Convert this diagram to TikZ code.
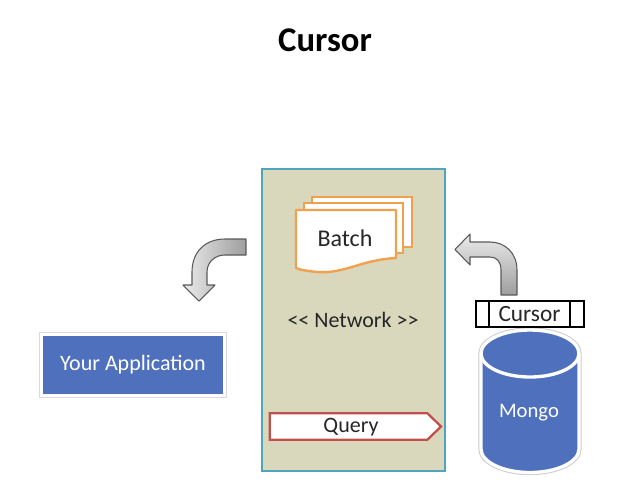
\documentclass[tikz,border=0pt]{standalone}
\usepackage{fontspec}
\setmainfont{Carlito}
\usetikzlibrary{shapes.symbols}
\definecolor{netfill}{HTML}{D9D8BD}
\definecolor{netline}{HTML}{4FA6B8}
\definecolor{blockblue}{HTML}{4F71BD}
\definecolor{batchline}{HTML}{F0A150}
\definecolor{queryline}{HTML}{C0504D}
\tikzset{
  sheet/.style={draw=batchline,fill=white,line width=1.8pt,shape=rectangle,inner sep=0pt},
  bluebox/.style={fill=blockblue,draw=white,line width=2.2pt,text=white},
  bendarrow/.style={draw=black!65,line width=0.8pt,line join=round},
  label/.style={font=\fontsize{16.5}{20}\selectfont,text=black!85}
}
\begin{document}
\begin{tikzpicture}[x=0.75pt,y=-0.75pt]
            \useasboundingbox (0,0) rectangle (622,494);
            \node[font=\fontsize{26}{30}\selectfont\bfseries](title)at(325,40){Cursor};

            % network box
            \node[draw=netline,fill=netfill,line width=1.7pt,shape=rectangle,minimum width=137pt,minimum height=226pt](network)at(353.5,320){};
            \node[label](networktext)at(353,320){<{}< Network >{}>};

            % batch pages
            \node[sheet,minimum width=75pt,minimum height=37.5pt](page3)at(362,222){};
            \node[sheet,minimum width=74pt,minimum height=37.5pt](page2)at(353.5,228){};
            \draw[batchline,fill=white,line width=1.8pt,line join=round](296,210)--(396,210)--(396,258)
                .. controls (360,260) and (345,274) .. (317,272) .. controls (308,271) and (300,270) .. (296,268)--cycle;
            \node[label,font=\fontsize{18}{20}\selectfont](batch)at(345,238){Batch};

            \node[draw=queryline,fill=white,line width=1.7pt,shape=signal,signal to=east,signal pointer angle=88,
                  minimum width=128.5pt,minimum height=20pt,inner sep=0pt](query)at(348.5,426.5){};
            \node[label](querytext)at(351,427){Query};

            % application
            \node[draw=black!15,fill=white,line width=0.6pt,minimum width=140.5pt,minimum height=49pt,inner sep=0pt](appshadow)at(133,365){};
            \node[bluebox,minimum width=137pt,minimum height=45.5pt,inner sep=0pt,label,text=white](app)at(133,365){Your Application};

            % mongo
            \draw[black!20,line width=4pt](481,353.5)arc[x radius=49,y radius=23.5,start angle=180,end angle=360]
                --(579,449)arc[x radius=49,y radius=23.5,start angle=0,end angle=180]--cycle;
            \draw[white,fill=blockblue,line width=2.5pt](481,353.5)arc[x radius=49,y radius=23.5,start angle=180,end angle=360]
                --(579,449)arc[x radius=49,y radius=23.5,start angle=0,end angle=180]--cycle;
            \draw[white,line width=2.5pt](481,353.5)arc[x radius=49,y radius=23.5,start angle=180,end angle=0];
            \node[label,text=white,font=\fontsize{15.5}{18}\selectfont](mongo)at(529,413){Mongo};

            % cursor bar
            \node[draw=black,fill=white,line width=1.5pt,shape=rectangle,minimum width=81pt,minimum height=20pt,inner sep=0pt](cursorbar)at(529.5,314){};
            \node[draw=black,line width=1.5pt,shape=rectangle,minimum width=60.5pt,minimum height=20pt,inner sep=0pt,label,font=\fontsize{17.5}{20}\selectfont](cursor)at(529.5,314){Cursor};

            % bent arrows
            \draw[bendarrow,left color=black!8,right color=black!38](246,239)--(225,239)
                .. controls (205,239) and (192,252) .. (192,272)--(192,285)--(183,285)--(199,301)--(215,285)--(207,285)--(207,272)
                .. controls (207,262) and (215,255) .. (225,255)--(246,255)--cycle;
            \draw[bendarrow,top color=black!8,bottom color=black!38](517,295)--(517,270)
                .. controls (517,253) and (505,242) .. (490,242)--(470,242)--(470,234)--(455,249.5)--(470,265)--(470,257)--(490,257)
                .. controls (497,257) and (501,262) .. (501,270)--(501,295)--cycle;
\end{tikzpicture}
\end{document}
